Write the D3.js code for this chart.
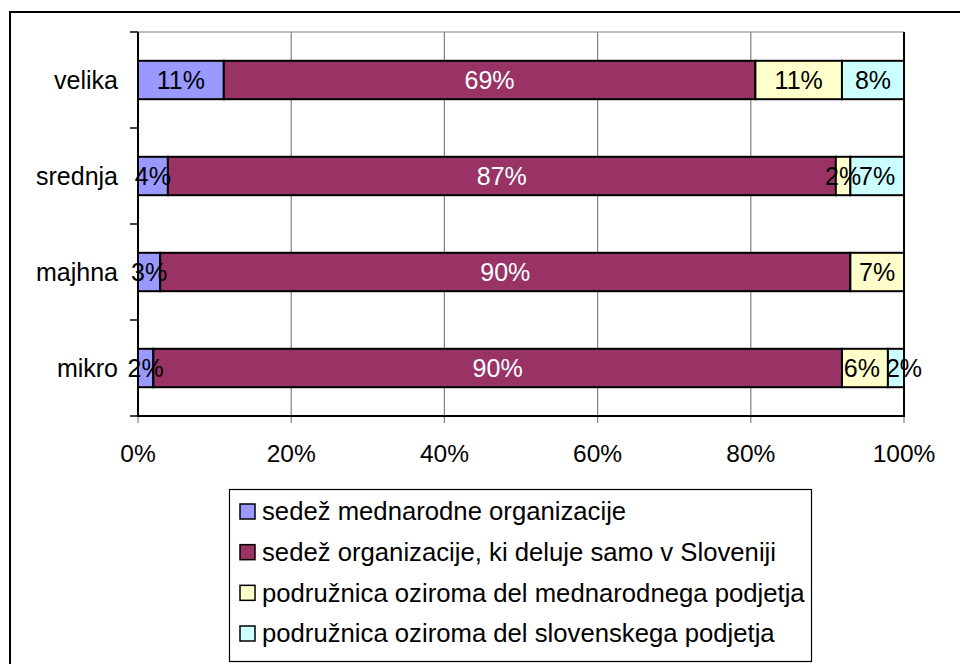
<!DOCTYPE html>
<html><head><meta charset="utf-8">
<script src="https://cdn.jsdelivr.net/npm/d3@7"></script>
<style>body{margin:0;background:#fff}svg{display:block}text{font-family:"Liberation Sans",Arial,sans-serif}</style>
</head><body>
<svg id="c" width="960" height="664"></svg>
<script>
const categories = ["velika", "srednja", "majhna", "mikro"];
const seriesNames = [
  "sedež mednarodne organizacije",
  "sedež organizacije, ki deluje samo v Sloveniji",
  "podružnica oziroma del mednarodnega podjetja",
  "podružnica oziroma del slovenskega podjetja"
];
const seriesColors = ["#9999FF", "#993366", "#FFFFCC", "#CCFFFF"];
const labelColors = ["#000", "#fff", "#000", "#000"];
const sedezMednarodne = [11.2, 3.9, 2.9, 2.0];
const sedezSlovenija = [69.4, 87.2, 90.1, 89.9];
const podruznicaMednarodna = [11.3, 1.9, 7.0, 6.0];
const podruznicaSlovenska = [8.1, 7.0, 0, 2.1];
const xTicks = [0, 20, 40, 60, 80, 100];

const seriesValues = [sedezMednarodne, sedezSlovenija, podruznicaMednarodna, podruznicaSlovenska];
const rows = categories.map((c, i) => {
  const o = {cat: c};
  seriesValues.forEach((s, k) => o["s" + k] = s[i]);
  return o;
});
const keys = seriesValues.map((s, k) => "s" + k);
const stacked = d3.stack().keys(keys)(rows);

const svg = d3.select("#c");
// outer chart border
svg.append("rect").attr("x", 10).attr("y", 12).attr("width", 1000).attr("height", 700)
  .attr("fill", "none").attr("stroke", "#000").attr("stroke-width", 2);

const L = 138, R = 904, T = 32, B = 416;
const x = d3.scaleLinear().domain([0, 100]).range([L, R]);
const y = d3.scaleBand().domain(categories).range([T, B]).paddingInner(0.6).paddingOuter(0.3);
const band = d3.scaleBand().domain(categories).range([T, B]);

// gridlines
svg.append("g").selectAll("line").data(xTicks).join("line")
  .attr("x1", d => x(d)).attr("x2", d => x(d)).attr("y1", T).attr("y2", B + 7)
  .attr("stroke", "#808080").attr("stroke-width", 1.2);
svg.append("line").attr("x1", L).attr("x2", R).attr("y1", T).attr("y2", T)
  .attr("stroke", "#808080").attr("stroke-width", 1.2);

// bars
const g = svg.append("g");
stacked.forEach((layer, k) => {
  g.append("g").selectAll("rect").data(layer.filter(d => d[1] - d[0] > 0)).join("rect")
    .attr("x", d => x(d[0])).attr("width", d => x(d[1]) - x(d[0]))
    .attr("y", d => y(d.data.cat)).attr("height", y.bandwidth())
    .attr("fill", seriesColors[k]).attr("stroke", "#000").attr("stroke-width", 2);
});
svg.append("line").attr("x1", R).attr("x2", R).attr("y1", T).attr("y2", B)
  .attr("stroke", "#000").attr("stroke-width", 2);

// data labels (small tail labels that collide with their neighbour are pushed outward)
stacked.forEach((layer, k) => {
  g.append("g").selectAll("text").data(layer.filter(d => d[1] - d[0] > 0)).join("text")
    .attr("x", d => {
      const cx = x((d[0] + d[1]) / 2);
      const w = x(d[1]) - x(d[0]);
      if (k === keys.length - 1 && d[0] > 0 && w < 20) {
        const prev = stacked[k - 1].find(p => p.data.cat === d.data.cat);
        if (prev && x(prev[1]) - x(prev[0]) < 60) return cx + 8;
      }
      if (k === keys.length - 2) {
        const next = stacked[k + 1].find(p => p.data.cat === d.data.cat);
        const w2 = x(next[1]) - x(next[0]);
        if (w2 > 0 && w2 < 20 && w < 60) return cx - 3;
      }
      return cx;
    })
    .attr("y", d => y(d.data.cat) + y.bandwidth() / 2)
    .attr("dy", "0.36em").attr("text-anchor", "middle")
    .attr("font-size", 25).attr("fill", labelColors[k])
    .text(d => Math.round(d[1] - d[0]) + "%");
});

// y axis
const yAxisG = svg.append("g").attr("transform", `translate(${L},0)`);
yAxisG.append("line").attr("x1", 0).attr("x2", 0).attr("y1", T).attr("y2", B + 1).attr("stroke", "#000").attr("stroke-width", 2);
const yTickPos = categories.map(c => band(c)).concat([B]);
yAxisG.selectAll("line.t").data(yTickPos).join("line").attr("class", "t")
  .attr("x1", -8).attr("x2", 0).attr("y1", d => d).attr("y2", d => d)
  .attr("stroke", "#000").attr("stroke-width", 1.5);
yAxisG.selectAll("text").data(categories).join("text")
  .attr("x", -20).attr("y", d => y(d) + y.bandwidth() / 2).attr("dy", "0.36em")
  .attr("text-anchor", "end").attr("font-size", 25).attr("fill", "#000").text(d => d);

// x axis
const xAxisG = svg.append("g");
xAxisG.append("line").attr("x1", L).attr("x2", R + 1).attr("y1", B).attr("y2", B).attr("stroke", "#000").attr("stroke-width", 2);
xAxisG.selectAll("text").data(xTicks).join("text")
  .attr("x", d => x(d)).attr("y", 462).attr("text-anchor", "middle")
  .attr("font-size", 24.5).attr("fill", "#000").text(d => d + "%");

// legend
const lg = svg.append("g");
lg.append("rect").attr("x", 229.5).attr("y", 489.5).attr("width", 582).attr("height", 172)
  .attr("fill", "#fff").attr("stroke", "#000").attr("stroke-width", 1.2);
const legY = d3.scalePoint().domain(d3.range(seriesNames.length)).range([511, 633]);
seriesNames.forEach((n, k) => {
  lg.append("rect").attr("x", 240).attr("y", legY(k) - 7).attr("width", 15).attr("height", 15)
    .attr("fill", seriesColors[k]).attr("stroke", "#000").attr("stroke-width", 1.5);
  lg.append("text").attr("x", 262).attr("y", legY(k)).attr("dy", "0.36em")
    .attr("font-size", 25.7).attr("fill", "#000").text(n);
});
</script>
</body></html>
